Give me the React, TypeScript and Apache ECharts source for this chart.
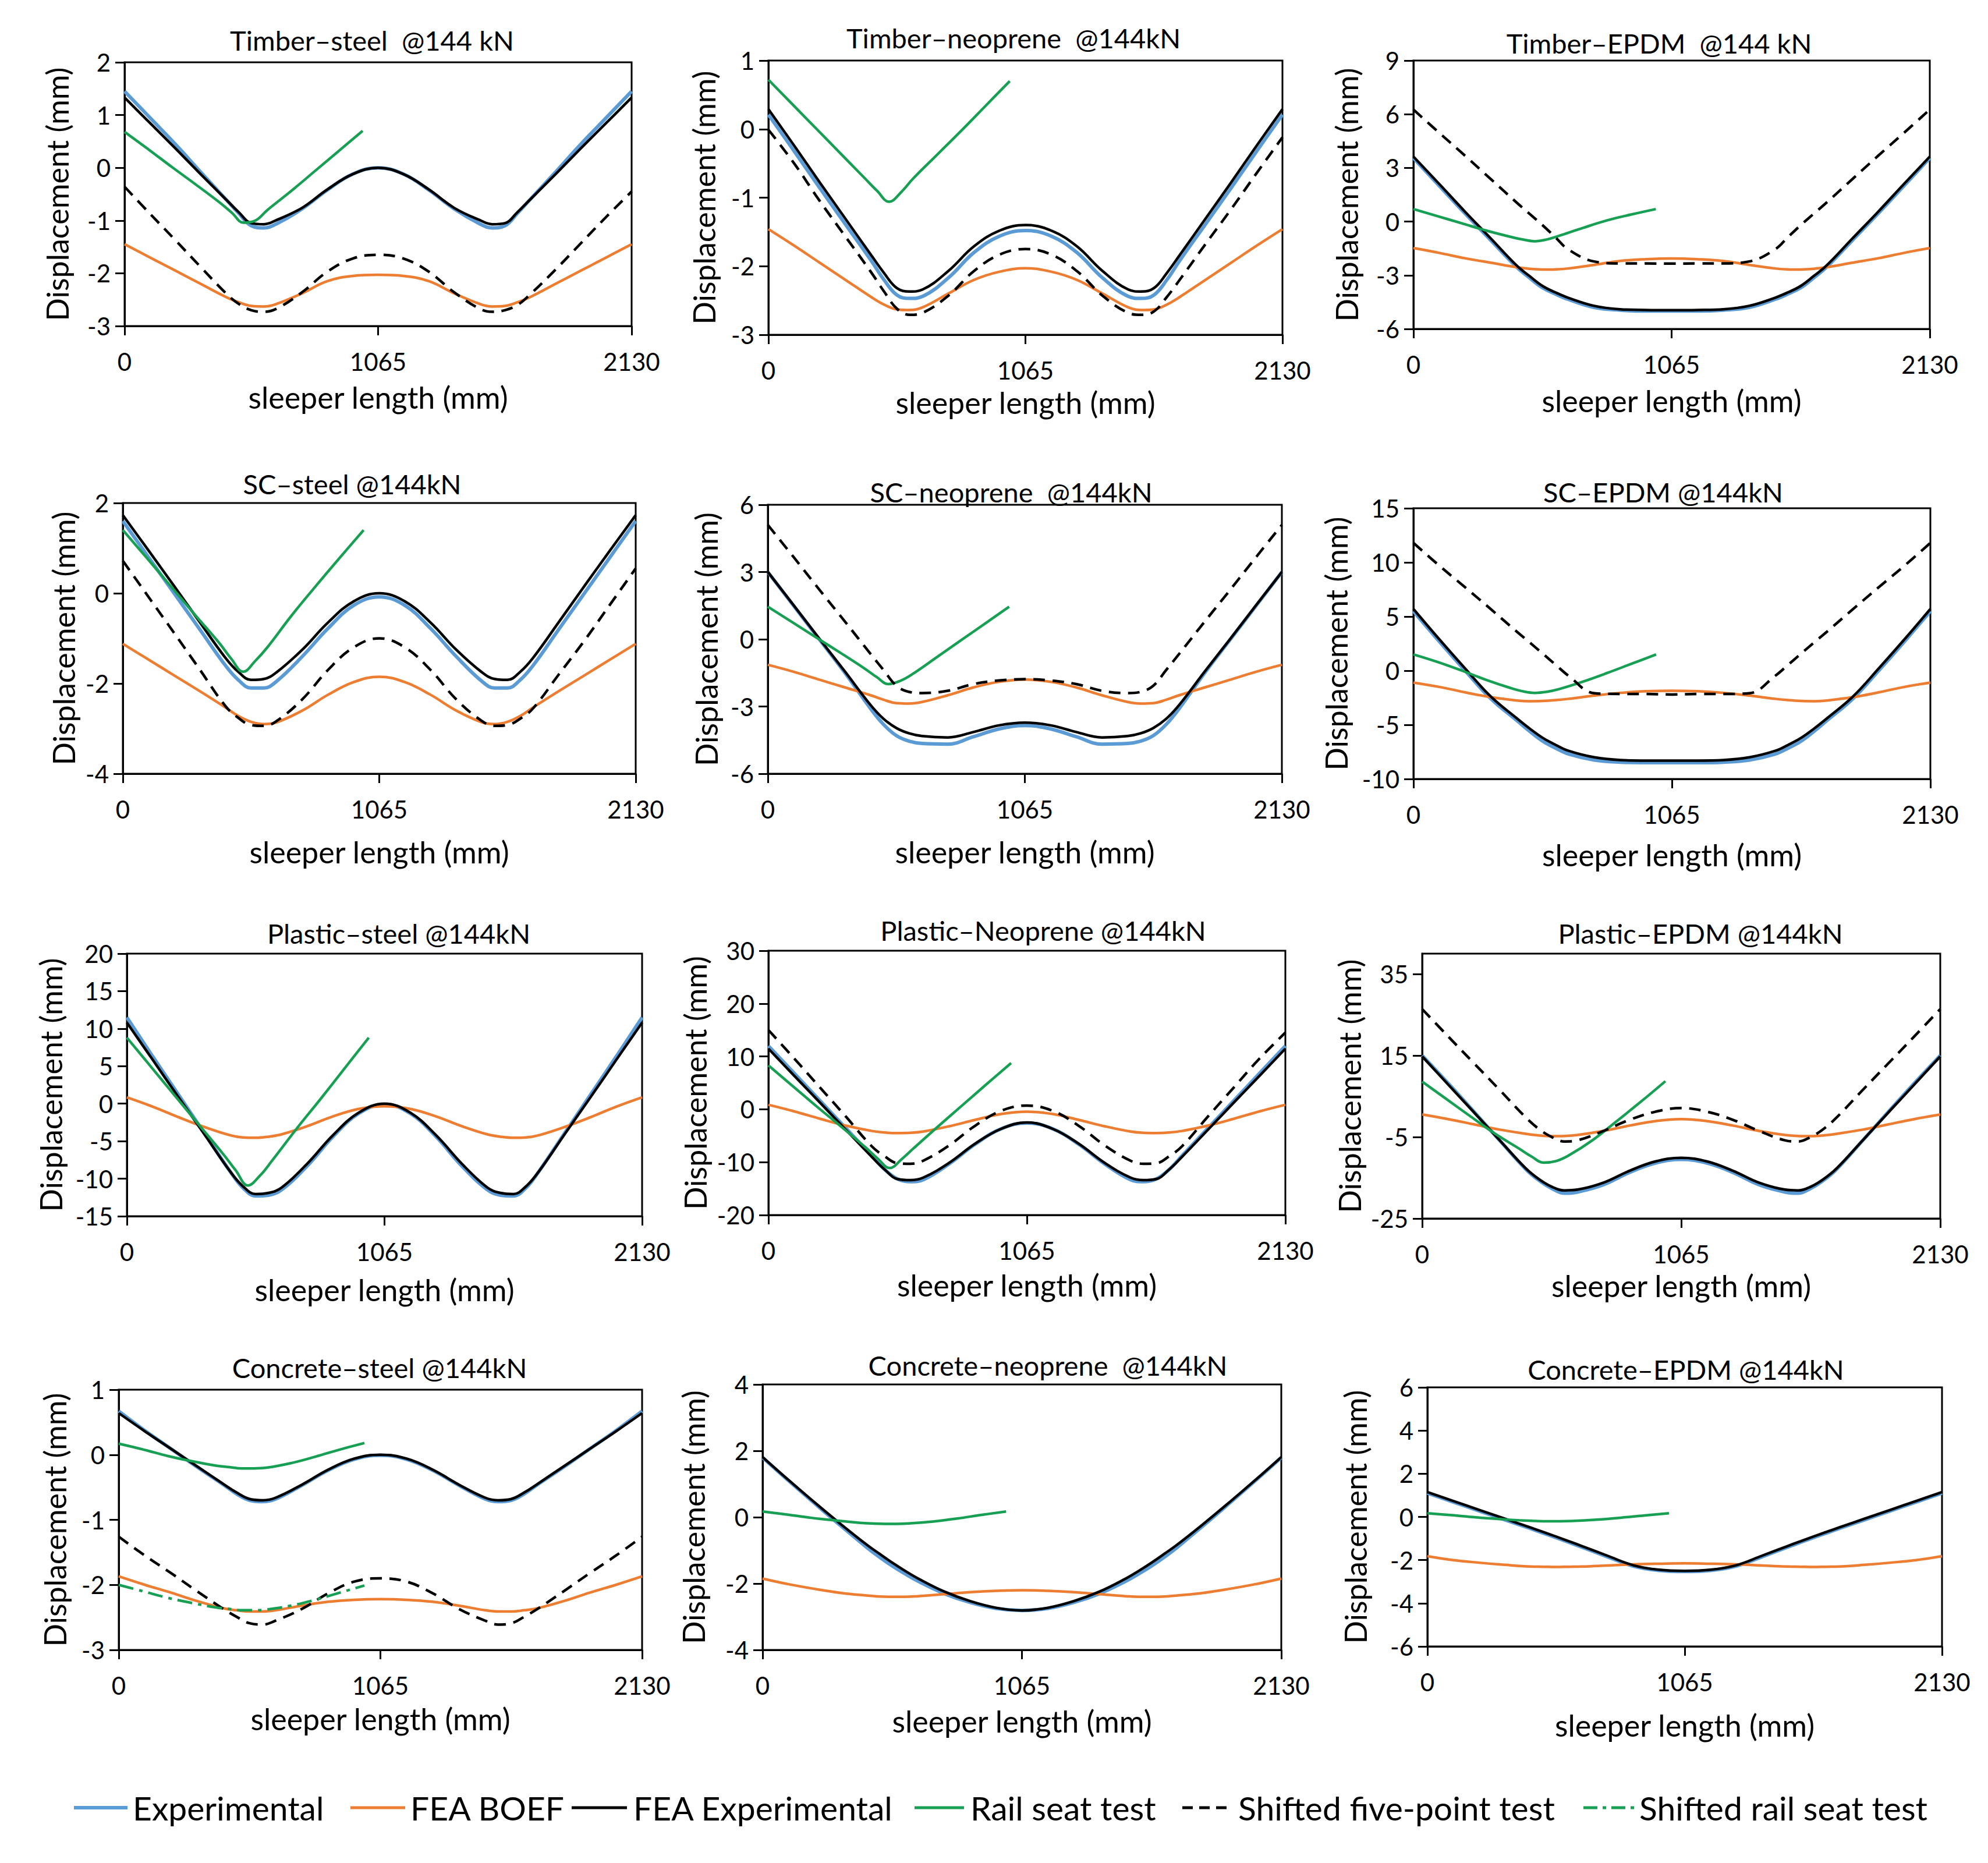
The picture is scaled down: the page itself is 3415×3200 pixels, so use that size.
import React, { useEffect, useRef } from "react";
import * as echarts from "echarts";

const FONT = "Lato, 'Noto Sans', sans-serif";

// x positions along sleeper (mm)
const X = [0, 106.5, 213, 319.5, 426, 479.25, 532.5, 585.75, 639, 745.5, 852, 958.5, 1065, 1171.5, 1278, 1384.5, 1491, 1544.25, 1597.5, 1650.75, 1704, 1810.5, 1917, 2023.5, 2130];
const GX = [0, 100, 200, 300, 400, 450, 500, 550, 600, 700, 800, 900, 1000];
const X_TICK_LABELS = ["0", "1065", "2130"];

// Timber-steel
const tsExp = [1.45, 0.95, 0.45, -0.08, -0.6, -0.86, -1.1, -1.14, -1.06, -0.78, -0.42, -0.12, 0, -0.12, -0.42, -0.78, -1.06, -1.14, -1.1, -0.86, -0.6, -0.08, 0.45, 0.95, 1.45];
const tsBoef = [-1.45, -1.7, -1.95, -2.2, -2.45, -2.55, -2.62, -2.63, -2.58, -2.38, -2.15, -2.05, -2.03, -2.05, -2.15, -2.38, -2.58, -2.63, -2.62, -2.55, -2.45, -2.2, -1.95, -1.7, -1.45];
const tsFea = [1.33, 0.85, 0.37, -0.12, -0.6, -0.84, -1.05, -1.07, -0.99, -0.76, -0.41, -0.12, 0, -0.12, -0.41, -0.76, -0.99, -1.07, -1.05, -0.84, -0.6, -0.12, 0.37, 0.85, 1.33];
const tsRail = [0.68, 0.35, 0.01, -0.32, -0.66, -0.85, -1.04, -1.0, -0.8, -0.44, -0.06, 0.32, 0.7];
const tsFive = [-0.36, -0.87, -1.37, -1.88, -2.38, -2.58, -2.7, -2.73, -2.67, -2.36, -1.97, -1.72, -1.65, -1.72, -1.97, -2.36, -2.67, -2.73, -2.7, -2.6, -2.4, -1.93, -1.43, -0.93, -0.45];

// Timber-neoprene
const tnExp = [0.21, -0.32, -0.86, -1.39, -1.92, -2.2, -2.42, -2.47, -2.44, -2.17, -1.8, -1.56, -1.48, -1.56, -1.8, -2.17, -2.44, -2.47, -2.42, -2.2, -1.92, -1.39, -0.86, -0.32, 0.21];
const tnBoef = [-1.46, -1.7, -1.95, -2.2, -2.45, -2.56, -2.63, -2.64, -2.6, -2.4, -2.2, -2.08, -2.03, -2.08, -2.2, -2.4, -2.6, -2.64, -2.63, -2.56, -2.45, -2.2, -1.95, -1.7, -1.46];
const tnFea = [0.29, -0.24, -0.78, -1.31, -1.84, -2.1, -2.32, -2.37, -2.34, -2.07, -1.71, -1.48, -1.4, -1.48, -1.71, -2.07, -2.34, -2.37, -2.32, -2.1, -1.84, -1.31, -0.78, -0.24, 0.29];
const tnRail = [0.72, 0.36, 0.0, -0.36, -0.72, -0.9, -1.06, -0.92, -0.72, -0.37, -0.02, 0.34, 0.7];
const tnFive = [-0.01, -0.5, -1.05, -1.57, -2.09, -2.37, -2.62, -2.71, -2.68, -2.43, -2.07, -1.83, -1.75, -1.83, -2.07, -2.43, -2.68, -2.71, -2.66, -2.45, -2.2, -1.68, -1.17, -0.64, -0.12];

// Timber-EPDM
const teExp = [3.55, 2.0, 0.45, -1.05, -2.55, -3.15, -3.7, -4.05, -4.35, -4.8, -4.95, -5.0, -5.0, -5.0, -4.95, -4.8, -4.35, -4.05, -3.7, -3.15, -2.55, -1.05, 0.45, 2.0, 3.55];
const teBoef = [-1.48, -1.75, -2.05, -2.3, -2.55, -2.64, -2.68, -2.67, -2.62, -2.42, -2.2, -2.1, -2.06, -2.1, -2.2, -2.42, -2.62, -2.67, -2.68, -2.64, -2.55, -2.3, -2.05, -1.75, -1.48];
const teFea = [3.63, 2.1, 0.55, -0.95, -2.46, -3.05, -3.6, -3.96, -4.26, -4.71, -4.9, -4.94, -4.95, -4.94, -4.9, -4.71, -4.26, -3.96, -3.6, -3.05, -2.46, -0.95, 0.55, 2.1, 3.63];
const teRail = [0.7, 0.3, -0.1, -0.5, -0.85, -1.0, -1.1, -1.0, -0.8, -0.35, 0.07, 0.4, 0.7];
const teFive = [6.26, 4.96, 3.68, 2.37, 1.06, 0.43, -0.2, -0.88, -1.56, -2.23, -2.34, -2.34, -2.35, -2.34, -2.34, -2.23, -1.56, -0.88, -0.2, 0.43, 1.06, 2.37, 3.68, 4.96, 6.26];

// SC-steel
const ssExp = [1.6, 0.8, 0.0, -0.8, -1.6, -1.92, -2.1, -2.1, -1.95, -1.4, -0.78, -0.27, -0.08, -0.27, -0.78, -1.4, -1.95, -2.1, -2.1, -1.92, -1.6, -0.8, 0.0, 0.8, 1.6];
const ssBoef = [-1.12, -1.47, -1.82, -2.17, -2.53, -2.72, -2.85, -2.9, -2.86, -2.6, -2.25, -1.97, -1.85, -1.97, -2.25, -2.6, -2.86, -2.9, -2.85, -2.72, -2.53, -2.17, -1.82, -1.47, -1.12];
const ssFea = [1.73, 0.95, 0.16, -0.64, -1.43, -1.74, -1.92, -1.9, -1.75, -1.25, -0.65, -0.18, 0, -0.18, -0.65, -1.25, -1.75, -1.9, -1.92, -1.74, -1.43, -0.64, 0.16, 0.95, 1.73];
const ssRail = [1.4, 0.78, 0.15, -0.48, -1.1, -1.45, -1.74, -1.5, -1.2, -0.5, 0.15, 0.78, 1.4];
const ssFive = [0.72, -0.08, -0.88, -1.69, -2.5, -2.76, -2.92, -2.94, -2.83, -2.35, -1.7, -1.2, -1.0, -1.2, -1.7, -2.35, -2.83, -2.94, -2.92, -2.78, -2.55, -1.8, -1.05, -0.25, 0.55];

// SC-neoprene
const snExp = [3.0, 1.5, 0.0, -1.5, -3.1, -3.8, -4.3, -4.55, -4.65, -4.68, -4.35, -4.0, -3.85, -4.0, -4.35, -4.68, -4.65, -4.55, -4.3, -3.8, -3.1, -1.5, 0.0, 1.5, 3.0];
const snBoef = [-1.14, -1.45, -1.8, -2.15, -2.5, -2.7, -2.85, -2.87, -2.8, -2.5, -2.15, -1.9, -1.8, -1.9, -2.15, -2.5, -2.8, -2.87, -2.85, -2.7, -2.5, -2.15, -1.8, -1.45, -1.14];
const snFea = [3.0, 1.52, 0.03, -1.44, -2.94, -3.55, -3.96, -4.2, -4.32, -4.38, -4.14, -3.84, -3.72, -3.84, -4.14, -4.38, -4.32, -4.2, -3.96, -3.55, -2.94, -1.44, 0.03, 1.52, 3.0];
const snRail = [1.45, 0.77, 0.08, -0.6, -1.3, -1.68, -2.0, -1.85, -1.55, -0.8, -0.05, 0.7, 1.45];
const snFive = [5.1, 3.67, 2.22, 0.79, -0.66, -1.37, -2.07, -2.35, -2.4, -2.3, -2.0, -1.84, -1.78, -1.84, -2.0, -2.3, -2.4, -2.35, -2.07, -1.37, -0.66, 0.79, 2.22, 3.67, 5.1];

// SC-EPDM
const seExp = [5.5, 2.7, 0.0, -2.6, -4.6, -5.6, -6.5, -7.15, -7.7, -8.25, -8.45, -8.5, -8.5, -8.5, -8.45, -8.25, -7.7, -7.15, -6.5, -5.6, -4.6, -2.6, 0.0, 2.7, 5.5];
const seBoef = [-1.1, -1.5, -2.0, -2.45, -2.75, -2.82, -2.8, -2.72, -2.6, -2.3, -2.05, -1.9, -1.85, -1.9, -2.05, -2.3, -2.6, -2.72, -2.8, -2.82, -2.75, -2.45, -2.0, -1.5, -1.1];
const seFea = [5.7, 2.9, 0.2, -2.4, -4.4, -5.35, -6.2, -6.85, -7.4, -8.0, -8.25, -8.3, -8.3, -8.3, -8.25, -8.0, -7.4, -6.85, -6.2, -5.35, -4.4, -2.4, 0.2, 2.9, 5.7];
const seRail = [1.5, 0.8, 0.0, -0.85, -1.6, -1.9, -2.05, -1.95, -1.7, -1.0, -0.2, 0.65, 1.5];
const seFive = [11.8, 9.7, 7.7, 5.67, 3.6, 2.6, 1.58, 0.55, -0.47, -2.08, -2.15, -2.15, -2.2, -2.15, -2.15, -2.08, -0.47, 0.55, 1.58, 2.6, 3.6, 5.67, 7.7, 9.7, 11.8];

// Plastic-steel
const psExp = [11.5, 6.3, 1.2, -3.9, -9.0, -11.2, -12.3, -12.2, -11.5, -8.3, -4.4, -1.3, -0.1, -1.3, -4.4, -8.3, -11.5, -12.2, -12.3, -11.2, -9.0, -3.9, 1.2, 6.3, 11.5];
const psBoef = [0.84, -0.4, -1.8, -3.1, -4.2, -4.5, -4.55, -4.4, -4.1, -3.0, -1.7, -0.7, -0.35, -0.7, -1.7, -3.0, -4.1, -4.4, -4.55, -4.5, -4.2, -3.1, -1.8, -0.4, 0.84];
const psFea = [10.8, 5.85, 0.87, -4.04, -9.0, -11.0, -12.05, -11.9, -11.2, -8.0, -4.2, -1.2, 0, -1.2, -4.2, -8.0, -11.2, -11.9, -12.05, -11.0, -9.0, -4.04, 0.87, 5.85, 10.8];
const psRail = [8.8, 4.9, 1.0, -2.9, -6.8, -8.9, -10.9, -9.6, -7.6, -3.4, 0.6, 4.7, 8.8];

// Plastic-Neoprene
const pnExp = [12.0, 6.8, 1.6, -3.6, -8.8, -11.4, -13.2, -13.7, -13.3, -10.3, -6.6, -3.7, -2.6, -3.7, -6.6, -10.3, -13.3, -13.7, -13.2, -11.4, -8.8, -3.6, 1.6, 6.8, 12.0];
const pnBoef = [0.85, -0.4, -1.8, -3.1, -4.1, -4.4, -4.5, -4.45, -4.2, -3.2, -2.0, -0.9, -0.45, -0.9, -2.0, -3.2, -4.2, -4.45, -4.5, -4.4, -4.1, -3.1, -1.8, -0.4, 0.85];
const pnFea = [11.47, 6.33, 1.24, -3.9, -9.0, -11.4, -13.2, -13.4, -12.9, -10.1, -6.5, -3.7, -2.5, -3.7, -6.5, -10.1, -12.9, -13.4, -13.2, -11.4, -9.0, -3.9, 1.24, 6.33, 11.47];
const pnRail = [8.3, 4.4, 0.5, -3.3, -7.2, -9.3, -11.1, -9.4, -7.3, -3.2, 0.8, 4.8, 8.75];
const pnFive = [15.0, 9.6, 4.1, -1.4, -7.0, -8.9, -10.2, -10.3, -9.7, -6.8, -3.1, -0.3, 0.7, -0.3, -3.1, -6.8, -9.7, -10.3, -10.2, -8.9, -7.0, -1.4, 4.1, 9.6, 14.5];

// Plastic-EPDM
const peExp = [15.0, 8.2, 1.2, -5.9, -12.9, -15.6, -17.6, -18.8, -18.5, -16.7, -13.7, -11.4, -10.5, -11.4, -13.7, -16.7, -18.5, -18.8, -17.6, -15.6, -12.9, -5.9, 1.2, 8.2, 15.0];
const peBoef = [0.54, -0.6, -1.9, -3.2, -4.2, -4.6, -4.8, -4.75, -4.5, -3.5, -2.2, -1.1, -0.6, -1.1, -2.2, -3.5, -4.5, -4.75, -4.8, -4.6, -4.2, -3.2, -1.9, -0.6, 0.54];
const peFea = [14.77, 7.9, 1.05, -5.85, -12.7, -15.3, -17.2, -18.1, -17.9, -16.2, -13.3, -11.0, -10.1, -11.0, -13.3, -16.2, -17.9, -18.1, -17.2, -15.3, -12.7, -5.85, 1.05, 7.9, 14.77];
const peRail = [8.6, 4.3, 0.0, -4.2, -7.9, -9.8, -11.3, -10.9, -9.6, -5.8, -1.1, 3.7, 8.7];
const peFive = [26.4, 19.7, 13.1, 6.5, -0.2, -3.0, -5.0, -6.1, -5.8, -3.5, -0.8, 1.2, 2.1, 1.2, -0.8, -3.5, -5.8, -6.1, -5.0, -3.0, -0.2, 6.5, 13.1, 19.7, 26.4];

// Concrete-steel
const csExp = [0.67, 0.37, 0.09, -0.19, -0.46, -0.6, -0.7, -0.72, -0.68, -0.47, -0.24, -0.07, -0.01, -0.07, -0.24, -0.47, -0.68, -0.72, -0.7, -0.6, -0.46, -0.19, 0.09, 0.37, 0.67];
const csBoef = [-1.87, -2.0, -2.12, -2.25, -2.36, -2.39, -2.41, -2.41, -2.39, -2.32, -2.26, -2.23, -2.22, -2.23, -2.26, -2.32, -2.39, -2.41, -2.41, -2.39, -2.36, -2.25, -2.12, -2.0, -1.87];
const csFea = [0.64, 0.36, 0.09, -0.18, -0.45, -0.58, -0.68, -0.7, -0.66, -0.46, -0.23, -0.06, 0.0, -0.06, -0.23, -0.46, -0.66, -0.7, -0.68, -0.58, -0.45, -0.18, 0.09, 0.36, 0.64];
const csRail = [0.17, 0.08, -0.02, -0.1, -0.17, -0.19, -0.21, -0.21, -0.2, -0.13, -0.03, 0.08, 0.18];
const csFive = [-1.26, -1.55, -1.82, -2.1, -2.37, -2.49, -2.59, -2.61, -2.55, -2.37, -2.13, -1.95, -1.9, -1.95, -2.13, -2.37, -2.55, -2.61, -2.59, -2.49, -2.37, -2.1, -1.82, -1.55, -1.26];
const csShiftRail = [-2.0, -2.1, -2.2, -2.28, -2.35, -2.37, -2.39, -2.39, -2.38, -2.32, -2.23, -2.12, -2.01];

// Concrete-neoprene
const cnExp = [1.8, 1.1, 0.42, -0.25, -0.9, -1.2, -1.47, -1.71, -1.93, -2.3, -2.57, -2.75, -2.81, -2.75, -2.57, -2.3, -1.93, -1.71, -1.47, -1.2, -0.9, -0.25, 0.42, 1.1, 1.8];
const cnBoef = [-1.85, -2.02, -2.16, -2.28, -2.36, -2.39, -2.4, -2.4, -2.38, -2.32, -2.26, -2.22, -2.2, -2.22, -2.26, -2.32, -2.38, -2.4, -2.4, -2.39, -2.36, -2.28, -2.16, -2.02, -1.85];
const cnFea = [1.81, 1.12, 0.45, -0.2, -0.82, -1.1, -1.37, -1.62, -1.85, -2.24, -2.53, -2.73, -2.81, -2.73, -2.53, -2.24, -1.85, -1.62, -1.37, -1.1, -0.82, -0.2, 0.45, 1.12, 1.81];
const cnRail = [0.17, 0.08, -0.02, -0.1, -0.17, -0.19, -0.2, -0.2, -0.19, -0.13, -0.04, 0.07, 0.17];

// Concrete-EPDM
const ceExp = [1.1, 0.69, 0.28, -0.13, -0.54, -0.75, -0.96, -1.18, -1.4, -1.85, -2.28, -2.48, -2.53, -2.48, -2.28, -1.85, -1.4, -1.18, -0.96, -0.75, -0.54, -0.13, 0.28, 0.69, 1.1];
const ceBoef = [-1.82, -2.0, -2.12, -2.22, -2.3, -2.31, -2.32, -2.31, -2.3, -2.25, -2.2, -2.17, -2.15, -2.17, -2.2, -2.25, -2.3, -2.31, -2.32, -2.31, -2.3, -2.22, -2.12, -2.0, -1.82];
const ceFea = [1.15, 0.74, 0.33, -0.08, -0.49, -0.7, -0.91, -1.13, -1.35, -1.8, -2.24, -2.45, -2.5, -2.45, -2.24, -1.8, -1.35, -1.13, -0.91, -0.7, -0.49, -0.08, 0.33, 0.74, 1.15];
const ceRail = [0.17, 0.08, -0.02, -0.1, -0.17, -0.19, -0.2, -0.2, -0.19, -0.13, -0.04, 0.07, 0.17];

const TITLES = [
  "Timber\u2013steel  @144 kN",
  "Timber\u2013neoprene  @144kN",
  "Timber\u2013EPDM  @144 kN",
  "SC\u2013steel @144kN",
  "SC\u2013neoprene  @144kN",
  "SC\u2013EPDM @144kN",
  "Plastic\u2013steel @144kN",
  "Plastic\u2013Neoprene @144kN",
  "Plastic\u2013EPDM @144kN",
  "Concrete\u2013steel @144kN",
  "Concrete\u2013neoprene  @144kN",
  "Concrete\u2013EPDM @144kN",
];
const Y_MIN = [-3, -3, -6, -4, -6, -10, -15, -20, -25, -3, -4, -6];
const Y_MAX = [2, 1, 9, 2, 6, 15, 20, 30, 40, 1, 4, 6];
const Y_STEP = [1, 1, 3, 2, 3, 5, 5, 10, 20, 1, 2, 2];
const PE_Y_TICKS = [-25, -5, 15, 35];

const EXP = [tsExp, tnExp, teExp, ssExp, snExp, seExp, psExp, pnExp, peExp, csExp, cnExp, ceExp];
const BOEF = [tsBoef, tnBoef, teBoef, ssBoef, snBoef, seBoef, psBoef, pnBoef, peBoef, csBoef, cnBoef, ceBoef];
const FEA = [tsFea, tnFea, teFea, ssFea, snFea, seFea, psFea, pnFea, peFea, csFea, cnFea, ceFea];
const RAIL = [tsRail, tnRail, teRail, ssRail, snRail, seRail, psRail, pnRail, peRail, csRail, cnRail, ceRail];
const FIVE = [tsFive, tnFive, teFive, ssFive, snFive, seFive, null, pnFive, peFive, csFive, null, null];
const SHIFT_RAIL = [null, null, null, null, null, null, null, null, null, csShiftRail, null, null];

const NAMES = ["Experimental", "FEA BOEF", "FEA Experimental", "Rail seat test", "Shifted five-point test", "Shifted rail seat test"];

// layout (pixels)
const BOXES = [
  [214, 107, 871, 453], [1320, 104, 883, 471], [2428, 104, 887, 461],
  [211, 864, 881, 465], [1319, 867, 883, 462], [2428, 873, 888, 465],
  [218, 1638, 885, 451], [1320, 1633, 888, 454], [2443, 1638, 890, 455],
  [204, 2387, 899, 447], [1310, 2378, 891, 456], [2452, 2383, 884, 445],
];
const TITLE_POS = [
  [639, 69], [1741, 65], [2850, 74],
  [605, 831], [1737, 845], [2857, 845],
  [685, 1603], [1792, 1598], [2921, 1603],
  [652, 2349], [1800, 2345], [2896, 2352],
];
const XNAME_OFF = [122, 116, 123, 134, 134, 130, 126, 120, 115, 118, 122, 135];
const YNAME_OFF = [116, 111, 115, 102, 106, 133, 131, 126, 125, 110, 119, 124];
const LEGEND_Y = 3105;
const LEGEND_ICON_X = [[127, 219], [602, 696], [982, 1077], [1571, 1656], [2031, 2118], [2720, 2807]];
const LEGEND_TEXT_X = [228, 705, 1088, 1667, 2127, 2816];

const C_BLUE = "#5B9BD5";
const C_ORANGE = "#ED7D31";
const C_BLACK = "#000000";
const C_GREEN = "#17A053";

const STYLES: any[] = [
  { color: C_BLUE, width: 6 },
  { color: C_ORANGE, width: 4.5 },
  { color: C_BLACK, width: 4.5 },
  { color: C_GREEN, width: 4.5 },
  { color: C_BLACK, width: 4.5, dash: [20, 13] },
  { color: C_GREEN, width: 4.5, dash: [26, 10, 6, 10] },
];

const zip = (xs: number[], ys: number[]) => xs.map((x, i) => [x, ys[i]]);

function buildOption() {
  const grid: any[] = [];
  const xAxis: any[] = [];
  const yAxis: any[] = [];
  const series: any[] = [];
  const graphic: any[] = [];
  for (let i = 0; i < 12; i++) {
    const [l, t, w, h] = BOXES[i];
    grid.push({ left: l, top: t, width: w, height: h, show: true, borderColor: "#000", borderWidth: 3, backgroundColor: "transparent" });
    xAxis.push({
      type: "value", gridIndex: i, min: 0, max: 2130, interval: 1065,
      axisLine: { show: true, onZero: false, lineStyle: { color: "#000", width: 3 } },
      axisTick: { show: true, length: 16, lineStyle: { color: "#000", width: 3 } },
      axisLabel: { fontSize: 42, fontFamily: FONT, color: "#000", margin: 40, formatter: (v: number) => X_TICK_LABELS[Math.round(v / 1065)] ?? String(v) },
      splitLine: { show: false },
      name: "sleeper length (mm)", nameLocation: "middle", nameGap: XNAME_OFF[i] - 26,
      nameTextStyle: { fontSize: 52, fontFamily: FONT, color: "#000" },
    });
    const yAx: any = {
      type: "value", gridIndex: i, min: Y_MIN[i], max: Y_MAX[i],
      axisLine: { show: true, onZero: false, lineStyle: { color: "#000", width: 3 } },
      axisTick: { show: true, length: 16, lineStyle: { color: "#000", width: 3 } },
      axisLabel: { fontSize: 42, fontFamily: FONT, color: "#000", margin: 24 },
      splitLine: { show: false },
      name: "Displacement (mm)", nameLocation: "middle", nameRotate: 90, nameGap: YNAME_OFF[i] - 26,
      nameTextStyle: { fontSize: 52, fontFamily: FONT, color: "#000" },
    };
    if (i === 8) {
      yAx.axisLabel.customValues = PE_Y_TICKS;
      yAx.axisTick.customValues = PE_Y_TICKS;
    } else {
      yAx.interval = Y_STEP[i];
    }
    yAxis.push(yAx);

    const base = { type: "line", xAxisIndex: i, yAxisIndex: i, symbol: "none", showSymbol: false, smooth: 0.4, animation: false };
    const mk = (k: number, data: number[][]) => ({
      ...base, name: NAMES[k], data,
      lineStyle: { color: STYLES[k].color, width: STYLES[k].width, type: STYLES[k].dash ?? "solid" },
      itemStyle: { color: STYLES[k].color },
    });
    series.push(mk(0, zip(X, EXP[i])));
    series.push(mk(1, zip(X, BOEF[i])));
    series.push(mk(2, zip(X, FEA[i])));
    series.push(mk(3, zip(GX, RAIL[i])));
    const five = FIVE[i];
    if (five) series.push(mk(4, zip(X, five)));
    const sr = SHIFT_RAIL[i];
    if (sr) series.push(mk(5, zip(GX, sr)));

    graphic.push({
      type: "text", x: TITLE_POS[i][0], y: TITLE_POS[i][1],
      style: { text: TITLES[i], fill: "#000", font: `47px ${FONT}`, fontSize: 47, fontFamily: FONT, textAlign: "center", textVerticalAlign: "middle", align: "center", verticalAlign: "middle" },
    });
  }
  // legend drawn as graphic lines + texts
  for (let k = 0; k < NAMES.length; k++) {
    const st = STYLES[k];
    graphic.push({
      type: "line",
      shape: { x1: LEGEND_ICON_X[k][0], y1: LEGEND_Y, x2: LEGEND_ICON_X[k][1], y2: LEGEND_Y },
      style: { stroke: st.color, lineWidth: k === 0 ? 6 : 5, lineDash: st.dash ? (k === 4 ? [18, 11] : [24, 9, 6, 9]) : null },
    });
    graphic.push({
      type: "text", x: LEGEND_TEXT_X[k], y: LEGEND_Y,
      style: { text: NAMES[k], fill: "#000", font: `57px ${FONT}`, fontSize: 57, fontFamily: FONT, textAlign: "left", textVerticalAlign: "middle", align: "left", verticalAlign: "middle" },
    });
  }
  return {
    animation: false,
    backgroundColor: "#ffffff",
    grid, xAxis, yAxis, series, graphic,
  };
}

export default function App() {
  const ref = useRef<HTMLDivElement>(null);
  useEffect(() => {
    if (!ref.current) return;
    const chart = echarts.init(ref.current, undefined, { renderer: "svg" });
    chart.setOption(buildOption() as any);
    return () => chart.dispose();
  }, []);
  return <div ref={ref} style={{ position: "absolute", left: 0, top: 0, width: 3415, height: 3200, background: "#fff" }} />;
}
